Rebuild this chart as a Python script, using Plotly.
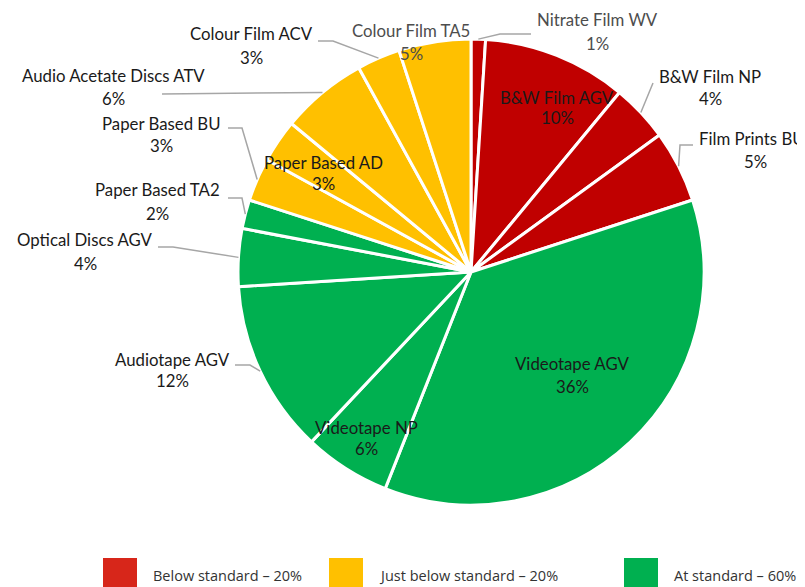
import math
import plotly.graph_objects as go

# ---- data ----
labels = ["Nitrate Film WV", "B&W Film AGV", "B&W Film NP", "Film Prints BU",
          "Videotape AGV", "Videotape NP", "Audiotape AGV", "Optical Discs AGV",
          "Paper Based TA2", "Paper Based BU", "Paper Based AD",
          "Audio Acetate Discs ATV", "Colour Film ACV", "Colour Film TA5"]
values = [1, 10, 4, 5, 36, 6, 12, 4, 2, 3, 3, 6, 3, 5]
status = ["below", "below", "below", "below",
          "at", "at", "at", "at", "at",
          "just", "just", "just", "just", "just"]

legend_keys = ["below", "just", "at"]
legend_names = ["Below standard", "Just below standard", "At standard"]

# ---- style ----
OFF = 8                      # page body margin in the browser
VW, VH = 805, 587            # viewport
FW, FH = VW - OFF, VH - OFF  # figure size
CX, CY, R = 471, 272, 233    # pie centre / radius in viewport pixels
slice_colors = {"below": "#C00000", "just": "#FFC000", "at": "#00B050"}
legend_colors = {"below": "#D7261A", "just": "#FFC000", "at": "#00B050"}
FONT = "Lato"
FSIZE = 16.8
DARK = "#1a1a1a"
GREY = "#4d4d4d"

# label placement (viewport pixel centre x line1, x line2, line-1 y, line-2 y) and leader elbows
label_pos = {
    "Nitrate Film WV": (597, 597, 20, 43),
    "B&W Film AGV": (557, 557, 97, 118),
    "B&W Film NP": (710, 710, 76, 98),
    "Film Prints BU": (752, 755, 138, 161),
    "Videotape AGV": (572, 572, 363, 386),
    "Videotape NP": (366, 366, 427, 448),
    "Audiotape AGV": (172, 172, 359, 380),
    "Optical Discs AGV": (85, 85, 240, 263),
    "Paper Based TA2": (157, 157, 190, 213),
    "Paper Based BU": (161, 161, 123, 146),
    "Paper Based AD": (323, 323, 162, 183),
    "Audio Acetate Discs ATV": (114, 114, 75, 98),
    "Colour Film ACV": (251, 251, 34, 57),
    "Colour Film TA5": (411, 411, 31, 53),
}
leader_elbows = {
    "Nitrate Film WV": [(531, 34), (500, 34)],
    "B&W Film NP": [(653, 83)],
    "Film Prints BU": [(693, 145), (680, 145)],
    "Audiotape AGV": [(235, 365), (250, 365)],
    "Optical Discs AGV": [(158, 247), (173, 247)],
    "Paper Based TA2": [(228, 198), (242, 198)],
    "Paper Based BU": [(228, 128), (242, 128)],
    "Audio Acetate Discs ATV": [(162, 94)],
    "Colour Film ACV": [(318, 41), (333, 41)],
}
grey_labels = {"Nitrate Film WV", "Colour Film TA5"}


def px(x, y):
    return (x - OFF) / FW, 1 - (y - OFF) / FH


fig = go.Figure()
x0, y0 = px(CX - R, CY + R)
x1, y1 = px(CX + R, CY - R)
fig.add_trace(go.Pie(
    labels=labels, values=values, sort=False, direction="clockwise", rotation=0,
    marker=dict(colors=[slice_colors[s] for s in status], line=dict(color="white", width=3)),
    textinfo="none", hoverinfo="label+percent", showlegend=False,
    domain=dict(x=[x0, x1], y=[y0, y1]),
))

total = sum(values)
annotations = []
shapes = []
cum = 0
for lab, v in zip(labels, values):
    mid = (cum + v / 2) / total * 2 * math.pi
    cum += v
    pct = f"{round(v / total * 100)}%"
    lx1, lx2, ly1, ly2 = label_pos[lab]
    col = GREY if lab in grey_labels else DARK
    for txt, lx, ly in ((lab, lx1, ly1), (pct, lx2, ly2)):
        ax, ay = px(lx, ly)
        annotations.append(dict(x=ax, y=ay, xref="paper", yref="paper", text=txt,
                                showarrow=False, xanchor="center", yanchor="middle",
                                font=dict(family=FONT, size=FSIZE, color=col)))
    if lab in leader_elbows:
        ex = CX + R * math.sin(mid)
        ey = CY - R * math.cos(mid)
        pts = leader_elbows[lab] + [(ex, ey)]
        path = ""
        for i, (a, b) in enumerate(pts):
            pxx, pyy = px(a, b)
            path += ("M" if i == 0 else "L") + f"{pxx},{pyy} "
        shapes.append(dict(type="path", path=path.strip(), xref="paper", yref="paper",
                           line=dict(color="#A6A6A6", width=1.5)))

# legend
leg_x = [103, 329, 624]
group_totals = {k: sum(v for v, s in zip(values, status) if s == k) for k in legend_keys}
for k, name, lx in zip(legend_keys, legend_names, leg_x):
    a0, b0 = px(lx, 594)
    a1, b1 = px(lx + 34, 558)
    shapes.append(dict(type="rect", x0=a0, y0=b0, x1=a1, y1=b1, xref="paper", yref="paper",
                       fillcolor=legend_colors[k], line=dict(width=0)))
    tx, ty = px(lx + 48, 575)
    annotations.append(dict(x=tx, y=ty, xref="paper", yref="paper",
                            text=f"{name} \u2013 {round(group_totals[k] / total * 100)}%",
                            showarrow=False, xanchor="left", yanchor="middle",
                            font=dict(family="Open Sans", size=14.5, color="#333333")))

fig.update_layout(
    width=FW, height=FH, margin=dict(l=0, r=0, t=0, b=0),
    paper_bgcolor="white", plot_bgcolor="white",
    annotations=annotations, shapes=shapes, showlegend=False,
)
fig.write_html("out.html")
